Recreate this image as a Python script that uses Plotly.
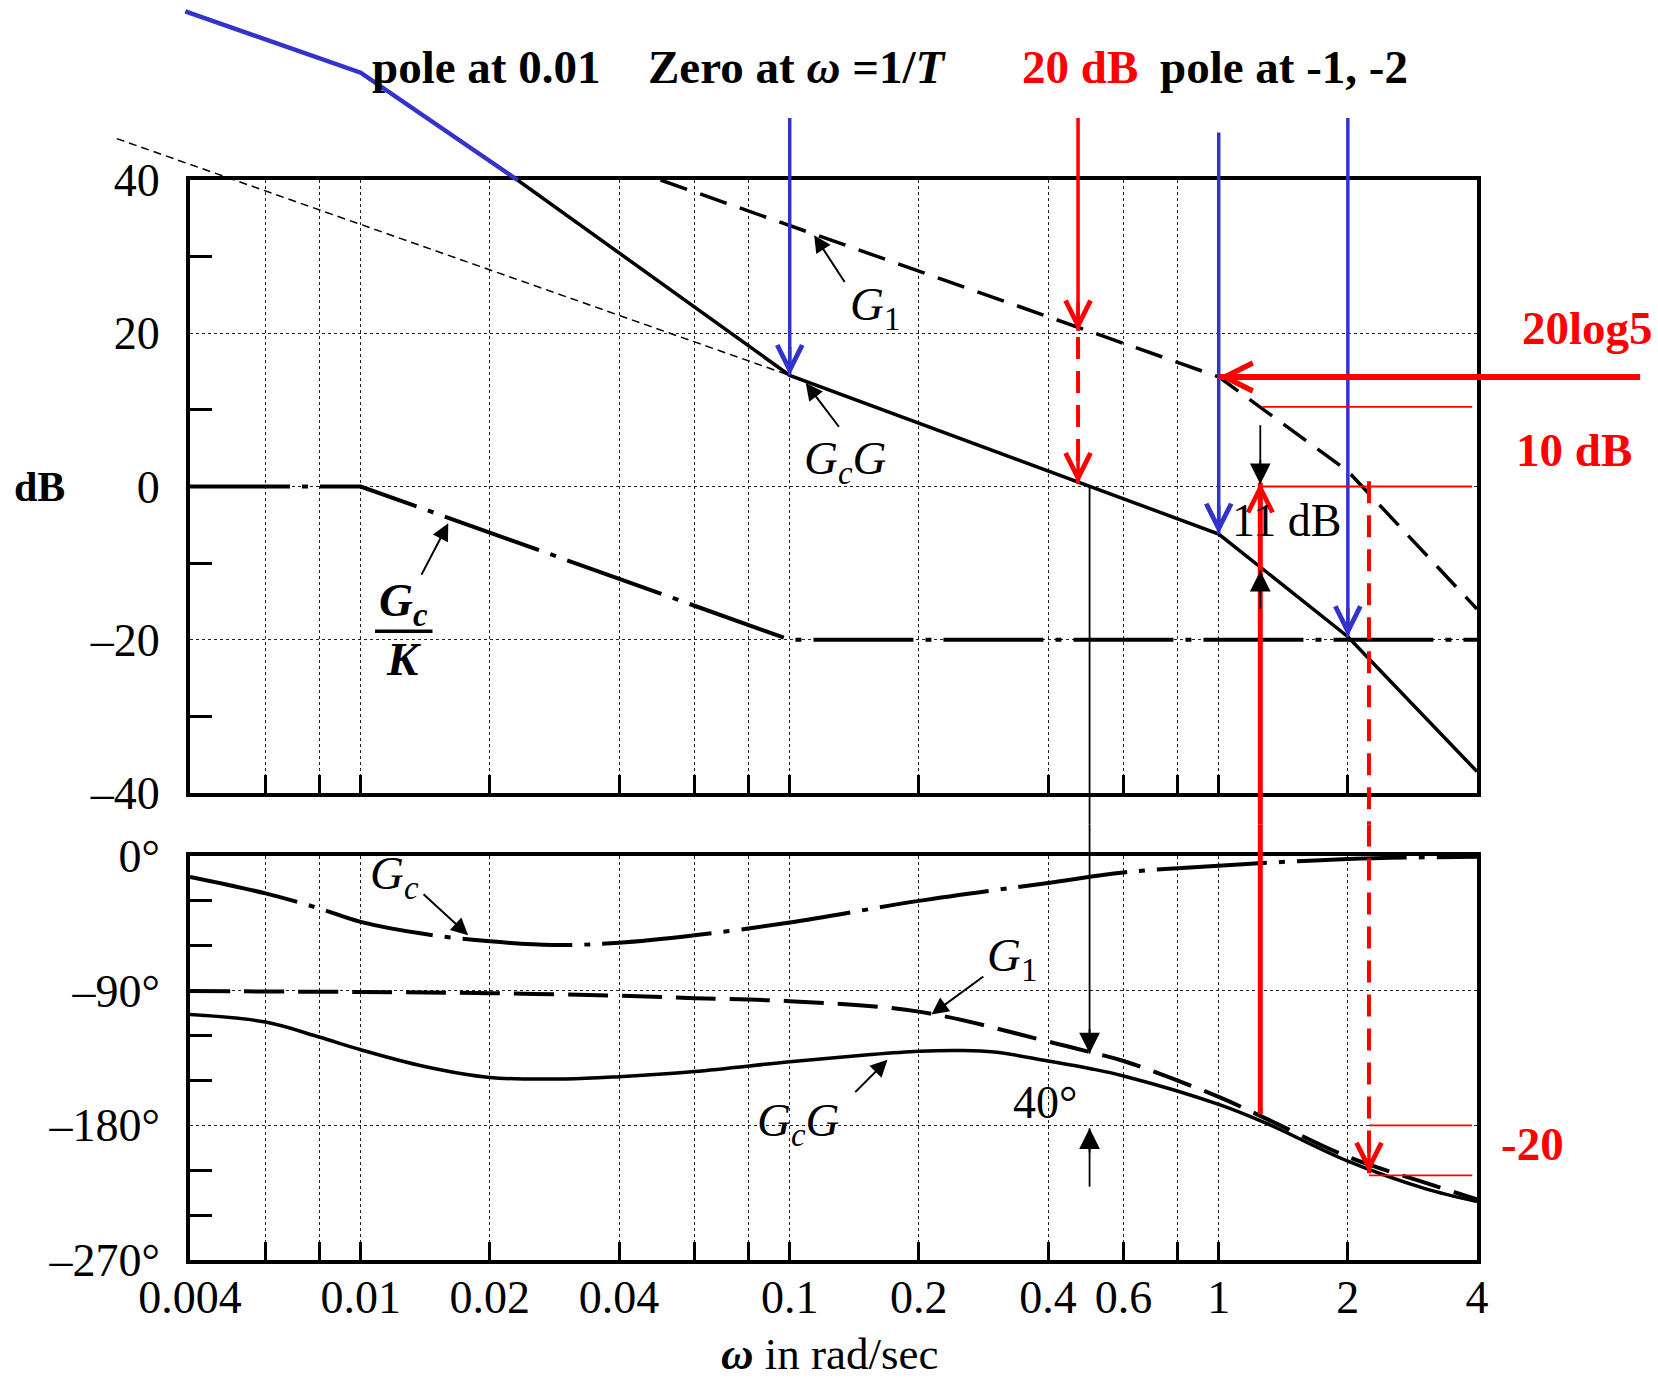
import numpy as np
import plotly.graph_objects as go

W, H = 1658, 1383
SERIF = "Liberation Serif"

# ---------------- axis ticks ----------------
x_grid_vals = [0.004, 0.006, 0.008, 0.01, 0.02, 0.04, 0.06, 0.08, 0.1,
               0.2, 0.4, 0.6, 0.8, 1, 2, 4]
x_tick_text = ["0.004", "", "", "0.01", "0.02", "0.04", "", "", "0.1",
               "0.2", "0.4", "0.6", "", "1", "2", "4"]
db_tick_vals = [-40, -20, 0, 20, 40]
db_tick_text = ["–40", "–20", "0", "20", "40"]
db_minor_vals = [-30, -10, 10, 30]
ph_tick_vals = [-270, -180, -90, 0]
ph_tick_text = ["–270°", "–180°", "–90°", "0°"]
ph_minor_vals = [-240, -210, -150, -120, -60, -30]

# ---------------- magnitude curves (dB) ----------------
g1_mag_w = [0.05, 1.0, 2.0, 4.0]
g1_mag_db = [40.0, 14.3, 2.0, -16.0]
gcg_mag_w = [0.0232, 0.1, 1.0, 2.0, 4.0]
gcg_mag_db = [40.0, 14.5, -6.2, -19.6, -37.2]
gck_mag_w = [0.004, 0.01, 0.1, 4.0]
gck_mag_db = [0.0, 0.0, -20.0, -20.0]

# ---------------- phase curves (deg) ----------------
gc_ph_w = [0.004, 0.006, 0.008, 0.01, 0.014, 0.02, 0.028, 0.04, 0.06, 0.1,
           0.2, 0.4, 0.6, 1.0, 2.0, 4.0]
gc_ph = [-14, -25, -35, -44, -52, -57, -59.5, -58, -53, -44.5,
         -30, -18, -11, -6.5, -2, -0.5]
g1_ph_w = [0.004, 0.01, 0.02, 0.04, 0.06, 0.1, 0.2, 0.4, 0.5, 0.6,
           1.0, 1.3, 2.0, 3.0, 4.0]
g1_ph = [-90.3, -90.9, -91.7, -93.4, -95, -97, -104, -124, -131, -137,
         -161, -176, -201, -218, -229.5]
gcg_ph_w = [0.004, 0.006, 0.008, 0.01, 0.014, 0.02, 0.03, 0.04, 0.06, 0.1,
            0.15, 0.2, 0.25, 0.3, 0.4, 0.5, 0.6, 1.0, 1.3, 2.0, 3.0, 4.0]
gcg_ph = [-106, -111, -121, -129.5, -140.5, -148, -149, -147.5, -144, -137.5,
          -133, -130.5, -130, -131, -137, -142, -147, -166, -179, -204, -222, -231]

# ---------------- annotation guide geometry (ω, value) ----------------
blue_ext_w = [0.0039, 0.01, 0.0232]
blue_ext_db = [62.0, 54.0, 40.0]
asym_ext_w = [0.0027, 0.1]
asym_ext_db = [45.4, 14.5]
# vertical arrows in the magnitude plot: (ω, from dB, to dB)
blue_arrows = [(0.1, 48.1, 14.5), (1.0, 46.2, -6.2), (2.0, 48.1, -19.6)]
red_arrow = (0.47, 48.1, 20.3)
red_dash_arrow = (0.47, 19.5, 0.4)
red_h_arrow = (9.6, 1.0, 14.3)          # from ω, to ω, at dB
red_thin_db = [(1.26, 3.9, 10.4), (1.25, 3.9, 0.0)]
red_thin_ph = [(2.24, 3.9, -180.0), (2.24, 3.9, -213.5)]
red_span = (1.25, 0.5, -172.6)          # ω, top dB (head), bottom deg
red_dash_span = (2.24, 0.7, -212.0)     # ω, top dB, bottom deg (head)
black_span = (0.5, 0.0, -132.0)         # ω, top dB, bottom deg (head)
black_pm_arrow = (0.5, -221.0, -182.0)
black_gm_down = (1.25, 8.0, 0.3)
black_gm_up = (1.25, -16.0, -11.0)

# ---------------- layout geometry ----------------
xd = [190 / W, 1477 / W]
ytop = [1 - 793 / H, 1 - 180 / H]
ybot = [1 - 1260 / H, 1 - 856 / H]
L0, L1 = np.log10(0.004), np.log10(4)
sx = (L1 - L0) / (xd[1] - xd[0])
x3range = [L0 - xd[0] * sx, L1 + (1 - xd[1]) * sx]
sy = 80 / (ytop[1] - ytop[0])
y3range = [-40 - ytop[0] * sy, 40 + (1 - ytop[1]) * sy]
sp = 270 / (ybot[1] - ybot[0])
y4range = [-270 - ybot[0] * sp, 0 + (1 - ybot[1]) * sp]
gap_paper = (ytop[0] + ybot[1]) / 2
gap_db = y3range[0] + gap_paper * (y3range[1] - y3range[0])
gap_deg = y4range[0] + gap_paper * (y4range[1] - y4range[0])

BLUE = "#3333CC"
RED = "#FF0000"

fig = go.Figure()

# main curves
fig.add_trace(go.Scatter(x=g1_mag_w, y=g1_mag_db, xaxis="x", yaxis="y", mode="lines",
                         line=dict(color="black", width=3.5, dash="28px,14px")))
fig.add_trace(go.Scatter(x=gcg_mag_w, y=gcg_mag_db, xaxis="x", yaxis="y", mode="lines",
                         line=dict(color="black", width=3.5)))
fig.add_trace(go.Scatter(x=gck_mag_w, y=gck_mag_db, xaxis="x", yaxis="y", mode="lines",
                         line=dict(color="black", width=4, dash="100px,12px,6px,12px")))
fig.add_trace(go.Scatter(x=gc_ph_w, y=gc_ph, xaxis="x2", yaxis="y2", mode="lines",
                         line=dict(color="black", width=4, dash="110px,12px,6px,12px",
                                   shape="spline", smoothing=1.0)))
fig.add_trace(go.Scatter(x=g1_ph_w, y=g1_ph, xaxis="x2", yaxis="y2", mode="lines",
                         line=dict(color="black", width=4, dash="40px,14px",
                                   shape="spline", smoothing=1.0)))
fig.add_trace(go.Scatter(x=gcg_ph_w, y=gcg_ph, xaxis="x2", yaxis="y2", mode="lines",
                         line=dict(color="black", width=3.5, shape="spline", smoothing=1.0)))


def seg(w, v, yref, color, width, dash="solid"):
    fig.add_trace(go.Scatter(x=w, y=v, xaxis="x3", yaxis=yref, mode="lines",
                             line=dict(color=color, width=width, dash=dash),
                             hoverinfo="skip"))


def head(w, v, yref, dx, dy, color, width, size, style):
    fig.add_annotation(x=np.log10(w), y=v, xref="x3", yref=yref, ax=dx, ay=dy,
                       text="", showarrow=True, arrowhead=style, arrowsize=size,
                       arrowwidth=width, arrowcolor=color)


def label(text, w, v, yref, size=47, color="black"):
    fig.add_annotation(x=np.log10(w), y=v, xref="x3", yref=yref, text=text,
                       showarrow=False, font=dict(family=SERIF, size=size, color=color))


def pointer(wt, vt, wh, vh, yref):
    fig.add_annotation(x=np.log10(wh), y=vh, ax=np.log10(wt), ay=vt, xref="x3",
                       yref=yref, axref="x3", ayref=yref, text="", showarrow=True,
                       arrowhead=2, arrowsize=1.7, arrowwidth=2, arrowcolor="black")


# guide lines outside / across the frames
seg(asym_ext_w, asym_ext_db, "y3", "black", 1.5, "8px,5px")
seg(blue_ext_w, blue_ext_db, "y3", BLUE, 4.5)

for w, a, b in blue_arrows:
    seg([w, w], [a, b], "y3", BLUE, 3.5)
    head(w, b, "y3", 0, -30, BLUE, 3.5, 1.4, 5)

w, a, b = red_arrow
seg([w, w], [a, b], "y3", RED, 3.5)
head(w, b, "y3", 0, -30, RED, 3.5, 1.4, 5)
w, a, b = red_dash_arrow
seg([w, w], [a, b], "y3", RED, 4, "22px,12px")
head(w, b, "y3", 0, -30, RED, 3.5, 1.4, 5)

wa, wb, v = red_h_arrow
seg([wa, wb], [v, v], "y3", RED, 6)
head(wb, v, "y3", 30, 0, RED, 5, 1.1, 5)

for wa, wb, v in red_thin_db:
    seg([wa, wb], [v, v], "y3", RED, 1.8)
for wa, wb, v in red_thin_ph:
    seg([wa, wb], [v, v], "y4", RED, 1.8)

w, a, b = red_span
seg([w, w], [a, gap_db], "y3", RED, 5)
seg([w, w], [gap_deg, b], "y4", RED, 5)
head(w, a, "y3", 0, 30, RED, 4, 1.2, 5)

w, a, b = red_dash_span
seg([w, w], [a, gap_db], "y3", RED, 4, "22px,12px")
seg([w, w], [gap_deg, b], "y4", RED, 4, "22px,12px")
head(w, b, "y4", 0, -30, RED, 3.5, 1.4, 5)

w, a, b = black_span
seg([w, w], [a, gap_db], "y3", "black", 1.8)
seg([w, w], [gap_deg, b], "y4", "black", 1.8)
head(w, b, "y4", 0, -26, "black", 1.8, 2.3, 2)

w, a, b = black_pm_arrow
seg([w, w], [a, b], "y4", "black", 1.8)
head(w, b, "y4", 0, 26, "black", 1.8, 2.3, 2)

w, a, b = black_gm_down
seg([w, w], [a, b], "y3", "black", 1.8)
head(w, b, "y3", 0, -26, "black", 1.8, 2.3, 2)
w, a, b = black_gm_up
seg([w, w], [a, b], "y3", "black", 1.8)
head(w, b, "y3", 0, 26, "black", 1.8, 2.3, 2)

# Gc/K fraction bar
seg([0.0108, 0.0147], [-18.9, -18.9], "y3", "black", 3.5)

# pointer arrows to curves
pointer(0.135, 26.5, 0.114, 32.8, "y3")      # G1
pointer(0.131, 7.6, 0.109, 13.5, "y3")       # GcG
pointer(0.0138, -11.7, 0.016, -4.8, "y3")    # Gc/K
pointer(0.0139, -24.7, 0.0178, -52.9, "y4")  # Gc phase
pointer(0.285, -79.8, 0.214, -105.9, "y4")   # G1 phase
pointer(0.141, -158.8, 0.169, -136.2, "y4")  # GcG phase

# texts
label("<b>pole at 0.01</b>", 0.0196, 54.8, "y3")
label("<b>Zero at <i>ω</i> =1/<i>T</i></b>", 0.104, 54.8, "y3")
label("<b>20 dB</b>", 0.476, 54.8, "y3", color=RED)
label("<b>pole at -1, -2</b>", 1.42, 54.8, "y3")
label("<b>20log5</b>", 7.23, 20.7, "y3", color=RED)
label("<b>10 dB</b>", 6.75, 4.8, "y3", color=RED)
label("<b>-20</b>", 5.38, -192.7, "y4", color=RED)
label("11 dB", 1.44, -4.4, "y3", size=46)
label("40°", 0.394, -164.5, "y4", size=46)
label("<b>dB</b>", 0.00178, 0.0, "y3", size=42)
label("<i><b>ω</b></i> in rad/sec", 0.124, -333.0, "y4", size=45)
label("<i>G</i><sub>1</sub>", 0.158, 23.4, "y3")
label("<i>G<sub>c</sub>G</i>", 0.135, 3.2, "y3")
label("<b><i>G<sub>c</sub></i></b>", 0.0126, -15.3, "y3")
label("<b><i>K</i></b>", 0.0126, -22.5, "y3")
label("<i>G<sub>c</sub></i>", 0.012, -14.0, "y4")
label("<i>G</i><sub>1</sub>", 0.33, -68.5, "y4")
label("<i>G<sub>c</sub>G</i>", 0.105, -178.6, "y4")

# ---------------- axes ----------------
frame = dict(showline=True, mirror=True, linewidth=4, linecolor="black",
             zeroline=False, automargin=False)
grid = dict(showgrid=True, gridcolor="#222222", gridwidth=1.4, griddash="dot")
tickfont = dict(family=SERIF, size=46, color="black")
hidden = dict(visible=False, automargin=False)

fig.update_layout(
    width=W, height=H,
    margin=dict(l=0, r=0, t=0, b=0, pad=0, autoexpand=False),
    paper_bgcolor="white", plot_bgcolor="rgba(0,0,0,0)",
    showlegend=False,
    font=dict(family=SERIF, size=46, color="black"),
    xaxis=dict(domain=xd, anchor="y", type="log", range=[L0, L1],
               tickmode="array", tickvals=x_grid_vals, ticks="inside", ticklen=18,
               tickwidth=2.5, tickcolor="black", showticklabels=False, **grid, **frame),
    yaxis=dict(domain=ytop, anchor="x", range=[-40, 40], tickmode="array",
               tickvals=db_tick_vals, ticktext=db_tick_text, ticks="",
               tickfont=tickfont, ticklabelstandoff=17,
               minor=dict(tickmode="array", tickvals=db_minor_vals, ticks="inside",
                          ticklen=22, tickwidth=3, tickcolor="black", showgrid=False),
               **grid, **frame),
    xaxis2=dict(domain=xd, anchor="y2", type="log", range=[L0, L1],
                tickmode="array", tickvals=x_grid_vals, ticktext=x_tick_text,
                ticks="inside", ticklen=18, tickwidth=2.5, tickcolor="black",
                tickfont=tickfont, ticklabelstandoff=-6, **grid, **frame),
    yaxis2=dict(domain=ybot, anchor="x2", range=[-270, 0], tickmode="array",
                tickvals=ph_tick_vals, ticktext=ph_tick_text, ticks="",
                tickfont=tickfont, ticklabelstandoff=17,
                minor=dict(tickmode="array", tickvals=ph_minor_vals, ticks="inside",
                           ticklen=22, tickwidth=3, tickcolor="black", showgrid=False),
                **grid, **frame),
    xaxis3=dict(domain=[0, 1], anchor="y3", type="log", range=x3range, **hidden),
    yaxis3=dict(domain=[0, 1], anchor="x3", range=y3range, **hidden),
    yaxis4=dict(domain=[0, 1], anchor="x3", range=y4range, **hidden),
)

fig.write_html("out.html")
